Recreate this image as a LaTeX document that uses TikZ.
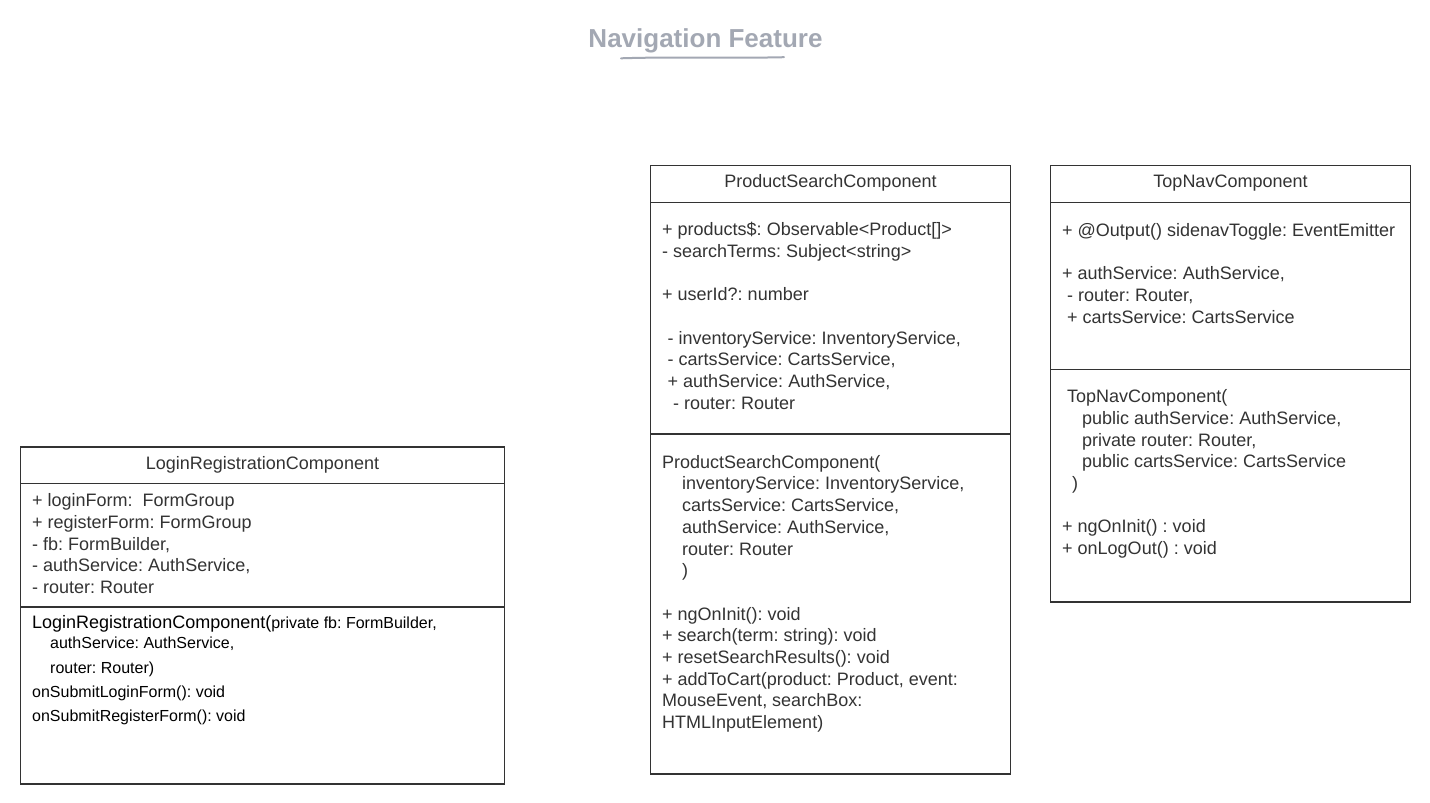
\documentclass[tikz,border=0pt]{standalone}
\usepackage{fontspec}
\setmainfont{Liberation Sans}
\definecolor{ink}{HTML}{333333}
\definecolor{titlegray}{RGB}{163,168,179}
\AtBeginDocument{\frenchspacing}
\begin{document}
\begin{tikzpicture}[x=1pt,y=-1pt,
  frame/.style={draw=ink, line width=1.1pt},
  divider/.style={draw=ink, line width=1.1pt},
  hdr/.style={font=\frenchspacing\fontsize{18}{21.7}\selectfont, text=ink, inner sep=0pt, anchor=base},
  comp/.style={font=\frenchspacing\fontsize{18}{21.7}\selectfont, text=ink, inner sep=0pt, anchor=north west, align=left},
  lline/.style={font=\frenchspacing\fontsize{16}{19}\selectfont, text=black, inner sep=0pt, anchor=base west},
]
\useasboundingbox (0,0) rectangle (1430,803);

% Title
\node[font=\bfseries\fontsize{26}{30}\selectfont, text=titlegray, inner sep=0pt, anchor=base] (title) at (705.5,47.3) {Navigation Feature};
\draw[titlegray, line width=2pt, line cap=round] (621,58.3) .. controls (680,56.5) and (730,58.5) .. (784,57.2);

% ---------- LoginRegistrationComponent ----------
\draw[frame] (20.5,447) rectangle (504.5,784);
\draw[divider] (20.5,483.5) -- (504.5,483.5);
\draw[divider] (20.5,607) -- (504.5,607);
\node[hdr] (lrh) at (262.5,469.5) {LoginRegistrationComponent};
\node[comp] (lra) at (32,{506.5-15.19}) {\strut+ loginForm:\ \ FormGroup\\
+ registerForm: FormGroup\\
- fb: FormBuilder,\\
- authService: AuthService,\\
- router: Router};
\node[lline] (lrm1) at (32,628) {{\fontsize{18}{21.7}\selectfont LoginRegistrationComponent(}private fb: FormBuilder,};
\node[lline] (lrm2) at (50,648.5) {authService: AuthService,};
\node[lline] (lrm3) at (50,673) {router: Router)};
\node[lline] (lrm4) at (32,697) {onSubmitLoginForm(): void};
\node[lline] (lrm5) at (32,721) {onSubmitRegisterForm(): void};

% ---------- ProductSearchComponent ----------
\draw[frame] (650.5,165.5) rectangle (1010.5,774);
\draw[divider] (650.5,202.3) -- (1010.5,202.3);
\draw[divider] (650.5,434) -- (1010.5,434);
\node[hdr] (psh) at (830.5,187.5) {ProductSearchComponent};
\node[comp] (psa) at (662,{235.5-15.19}) {\strut+ products\$: Observable<Product[]>\\
- searchTerms: Subject<string>\\[21.7pt]
+ userId?: number\\[21.7pt]
\hspace*{5.5pt}- inventoryService: InventoryService,\\
\hspace*{5.5pt}- cartsService: CartsService,\\
\hspace*{5.5pt}+ authService: AuthService,\\
\hspace*{11pt}- router: Router};
\node[comp] (psm) at (662,{468-15.19}) {\strut ProductSearchComponent(\\
\hspace*{20pt}inventoryService: InventoryService,\\
\hspace*{20pt}cartsService: CartsService,\\
\hspace*{20pt}authService: AuthService,\\
\hspace*{20pt}router: Router\\
\hspace*{20pt})\\[21.7pt]
+ ngOnInit(): void\\
+ search(term: string): void\\
+ resetSearchResults(): void\\
+ addToCart(product: Product, event:\\
MouseEvent, searchBox:\\
HTMLInputElement)};

% ---------- TopNavComponent ----------
\draw[frame] (1050.5,165.5) rectangle (1410.5,602);
\draw[divider] (1050.5,202.3) -- (1410.5,202.3);
\draw[divider] (1050.5,369.5) -- (1410.5,369.5);
\node[hdr] (tnh) at (1230.5,187.5) {TopNavComponent};
\node[comp] (tna) at (1062,{236-15.19}) {\strut+ @Output() sidenavToggle: EventEmitter\\[21.7pt]
+ authService: AuthService,\\
\hspace*{5pt}- router: Router,\\
\hspace*{5pt}+ cartsService: CartsService};
\node[comp] (tnm) at (1062,{402.5-15.19}) {\strut\hspace*{5pt}TopNavComponent(\\
\hspace*{20pt}public authService: AuthService,\\
\hspace*{20pt}private router: Router,\\
\hspace*{20pt}public cartsService: CartsService\\
\hspace*{10pt})\\[21.7pt]
+ ngOnInit() : void\\
+ onLogOut() : void};
\end{tikzpicture}
\end{document}
